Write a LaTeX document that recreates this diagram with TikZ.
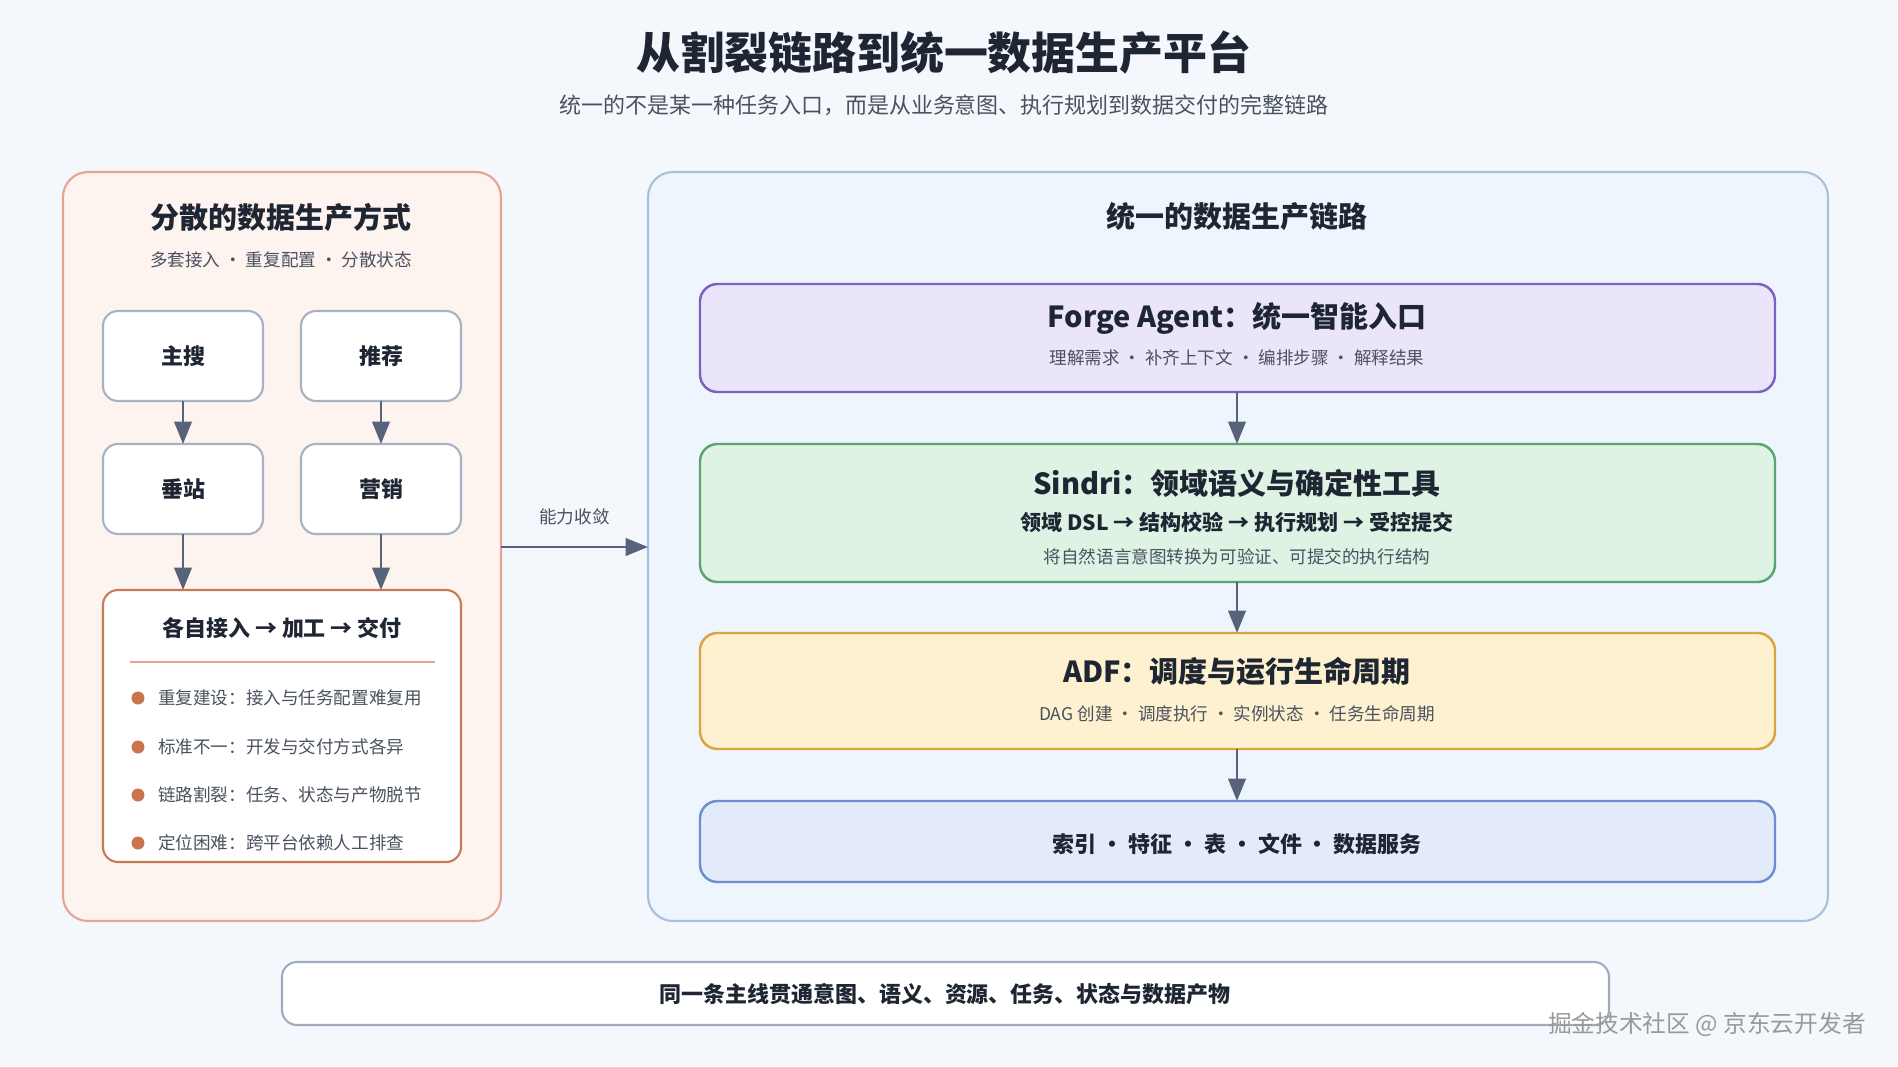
\documentclass[tikz,border=0pt]{standalone}
\usepackage{fontspec}
\setmainfont{Noto Sans CJK SC}
\usetikzlibrary{arrows.meta}
\definecolor{bgc}{HTML}{F4F7FB}
\definecolor{ink}{HTML}{1F2633}
\definecolor{sub}{HTML}{4A5260}
\definecolor{arr}{HTML}{56637A}
\definecolor{lpanel}{HTML}{FDF3EF}
\definecolor{lpaneld}{HTML}{E3A594}
\definecolor{rpanel}{HTML}{EFF5FC}
\definecolor{rpaneld}{HTML}{A8C0DC}
\definecolor{boxd}{HTML}{A7B2C4}
\definecolor{flowd}{HTML}{C87A55}
\definecolor{dot}{HTML}{C9764F}
\definecolor{forgef}{HTML}{EBE5FB}
\definecolor{forged}{HTML}{7C62C0}
\definecolor{sindrif}{HTML}{DFF3E4}
\definecolor{sindrid}{HTML}{5AA572}
\definecolor{adff}{HTML}{FDF1CF}
\definecolor{adfd}{HTML}{D8A540}
\definecolor{srvf}{HTML}{E3EBFB}
\definecolor{srvd}{HTML}{6D8FD0}
\definecolor{footd}{HTML}{A0ACBE}
\tikzset{
	panel/.style={draw,rounded corners=0.5cm,line width=1.2pt},
	smallbox/.style={draw=#1,fill=white,rounded corners=0.3cm,line width=1.2pt},
	bigbox/.style={draw=#1,rounded corners=0.35cm,line width=1.4pt},
	flow/.style={draw=arr,line width=1.6pt,-{Triangle[length=0.45cm,width=0.35cm]}},
	bullet/.style={circle,fill=#1,inner sep=0pt,minimum size=0.26cm}
}
\begin{document}
\begin{tikzpicture}[x=0.02cm,y=-0.02cm,font=\color{ink}]
		% background
		\fill[bgc] (0,0) rectangle (1898,1066);
		\useasboundingbox (0,0) rectangle (1898,1066);

		% title
		\node (title) at (944,53) {\fontsize{25}{30}\selectfont\bfseries 从割裂链路到统一数据生产平台};
		\node[text=sub] (subtitle) at (944,105) {\fontsize{12.5}{15}\selectfont 统一的不是某一种任务入口，而是从业务意图、执行规划到数据交付的完整链路};

		% left panel
		\path[panel,draw=lpaneld,fill=lpanel] (63,172) rectangle (501,921);
		\coordinate (leftin) at (501,547);
		\node (lt) at (281,217) {\fontsize{16.5}{20}\selectfont\bfseries 分散的数据生产方式};
		\node[text=sub] (ls) at (281,260) {\fontsize{10}{12}\selectfont 多套接入 · 重复配置 · 分散状态};

		\draw[smallbox=boxd] (103,311) rectangle (263,401);
		\draw[smallbox=boxd] (301,311) rectangle (461,401);
		\draw[smallbox=boxd] (103,444) rectangle (263,534);
		\draw[smallbox=boxd] (301,444) rectangle (461,534);
		\node (zs) at (183,356) {\fontsize{12.5}{15}\selectfont\bfseries 主搜};
		\node (tj) at (381,356) {\fontsize{12.5}{15}\selectfont\bfseries 推荐};
		\node (cz) at (183,489) {\fontsize{12.5}{15}\selectfont\bfseries 垂站};
		\node (yx) at (381,489) {\fontsize{12.5}{15}\selectfont\bfseries 营销};
		\coordinate (zsb) at (183,401);
		\coordinate (tjb) at (381,401);
		\coordinate (czt) at (183,444);
		\coordinate (yxt) at (381,444);
		\coordinate (czb) at (183,534);
		\coordinate (yxb) at (381,534);
		\coordinate (gzl) at (183,590);
		\coordinate (gzr) at (381,590);
		\draw[flow] (zsb) -- (czt);
		\draw[flow] (tjb) -- (yxt);
		\draw[flow] (czb) -- (gzl);
		\draw[flow] (yxb) -- (gzr);

		\draw[smallbox=flowd] (103,590) rectangle (461,862);
		\node (gz) at (282,628) {\fontsize{12.5}{15}\selectfont\bfseries 各自接入 → 加工 → 交付};
		\draw[lpaneld,line width=1pt] (130,662) -- (435,662);
		\foreach \y/\t in {698/重复建设：接入与任务配置难复用,747/标准不一：开发与交付方式各异,795/链路割裂：任务、状态与产物脱节,843/定位困难：跨平台依赖人工排查}{
			\node[bullet=dot] at (138,\y) {};
			\node[anchor=west,text=sub] at (152,\y) {\fontsize{10}{12}\selectfont \t};
		}

		% right panel
		\path[panel,draw=rpaneld,fill=rpanel] (648,172) rectangle (1828,921);
		\coordinate (rightin) at (648,547);
		\node (rt) at (1237,217) {\fontsize{16.5}{20}\selectfont\bfseries 统一的数据生产链路};

		\draw[bigbox=forged,fill=forgef] (700,284) rectangle (1775,392);
		\node (forge) at (1237,318) {\fontsize{16.5}{20}\selectfont\bfseries Forge Agent：统一智能入口};
		\node[text=sub] (forges) at (1237,358) {\fontsize{10}{12}\selectfont 理解需求 · 补齐上下文 · 编排步骤 · 解释结果};

		\draw[bigbox=sindrid,fill=sindrif] (700,444) rectangle (1775,582);
		\node (sindri) at (1237,483) {\fontsize{16.5}{20}\selectfont\bfseries Sindri：领域语义与确定性工具};
		\node (sindrim) at (1237,522) {\fontsize{12}{14}\selectfont\bfseries 领域 DSL → 结构校验 → 执行规划 → 受控提交};
		\node[text=sub] (sindris) at (1237,557) {\fontsize{10}{12}\selectfont 将自然语言意图转换为可验证、可提交的执行结构};

		\draw[bigbox=adfd,fill=adff] (700,633) rectangle (1775,749);
		\node (adf) at (1237,671) {\fontsize{16.5}{20}\selectfont\bfseries ADF：调度与运行生命周期};
		\node[text=sub] (adfs) at (1237,714) {\fontsize{10}{12}\selectfont DAG 创建 · 调度执行 · 实例状态 · 任务生命周期};

		\draw[bigbox=srvd,fill=srvf] (700,801) rectangle (1775,882);
		\node (srv) at (1237,844) {\fontsize{12.5}{15}\selectfont\bfseries 索引 · 特征 · 表 · 文件 · 数据服务};

		\coordinate (f1) at (1237,392);
		\coordinate (s0) at (1237,444);
		\coordinate (s1) at (1237,582);
		\coordinate (a0) at (1237,633);
		\coordinate (a1) at (1237,749);
		\coordinate (d0) at (1237,801);
		\draw[flow] (f1) -- (s0);
		\draw[flow] (s1) -- (a0);
		\draw[flow] (a1) -- (d0);

		% converge arrow
		\draw[flow] (leftin) -- node[above=0.3cm,text=sub] (conv) {\fontsize{10}{12}\selectfont 能力收敛} (rightin);

		% footer
		\draw[smallbox=footd] (282,962) rectangle (1609,1025);
		\node (foot) at (945,994) {\fontsize{12.5}{15}\selectfont\bfseries 同一条主线贯通意图、语义、资源、任务、状态与数据产物};
		\node[text=gray!80,anchor=east] (wm) at (1872,1024) {\fontsize{13.5}{16}\selectfont 掘金技术社区 @ 京东云开发者};
	\end{tikzpicture}
\end{document}
